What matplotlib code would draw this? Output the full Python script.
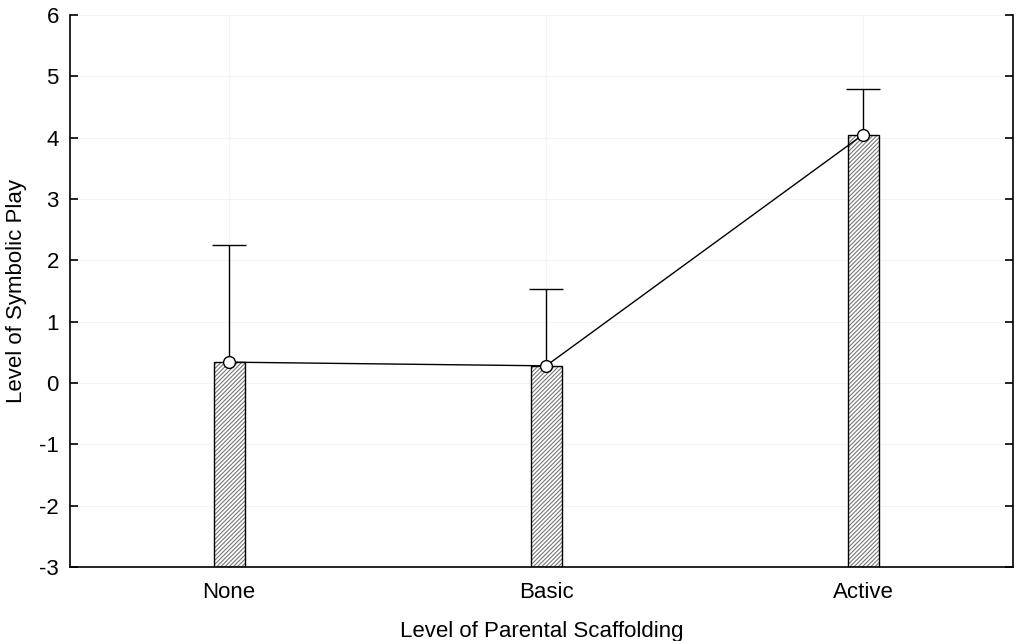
import matplotlib
matplotlib.use("Agg")
import matplotlib.pyplot as plt
import numpy as np

categories = ["None", "Basic", "Active"]
means = [0.34, 0.28, 4.05]
upper = [2.25, 1.54, 4.80]
yticks = [-3, -2, -1, 0, 1, 2, 3, 4, 5, 6]

plt.rcParams['font.family'] = ['Liberation Sans', 'DejaVu Sans']
plt.rcParams['hatch.linewidth'] = 0.8

fig = plt.figure(figsize=(10.23, 6.41), dpi=100)
ax = fig.add_axes([70/1023, 1-567/641, (1013-70)/1023, (567-15)/641])

x = np.arange(len(categories))
ymin = -3
heights = [m - ymin for m in means]
ax.bar(x, heights, bottom=ymin, width=0.098, color='white', edgecolor='#777777',
       hatch='////////', linewidth=0, zorder=2)
ax.bar(x, heights, bottom=ymin, width=0.098, fill=False, edgecolor='black',
       linewidth=1.0, zorder=3)

capw = 0.054
ax.vlines(x, means, upper, color='black', linewidth=1.0, zorder=4)
ax.hlines(upper, x - capw, x + capw, color='black', linewidth=1.0, zorder=4)
ax.plot(x, means, color='black', linewidth=1.0, marker='o', markersize=8.5,
        markerfacecolor='white', markeredgecolor='black', markeredgewidth=1.0, zorder=5)

ax.set_xlim(-0.502, 2.473)
ax.set_ylim(-3, 6)
ax.set_yticks(yticks)
ax.set_yticklabels([str(v) for v in yticks], fontsize=16)
ax.set_xticks(x)
ax.set_xticklabels(categories, fontsize=16)
ax.grid(True, color='#f3f3f3', linewidth=0.8, zorder=0)
ax.set_axisbelow(True)

ax.spines['top'].set_visible(False)
for s in ['left', 'right', 'bottom']:
    ax.spines[s].set_linewidth(1.2)
ax.tick_params(axis='y', direction='in', length=6, width=1.2, right=True, pad=8)
ax.tick_params(axis='x', direction='in', length=4, width=1.0, pad=11)

ax.set_ylabel("Level of Symbolic Play", fontsize=16, labelpad=9)
ax.set_xlabel("Level of Parental Scaffolding", fontsize=16, labelpad=13)

fig.savefig("out.png", dpi=100)
